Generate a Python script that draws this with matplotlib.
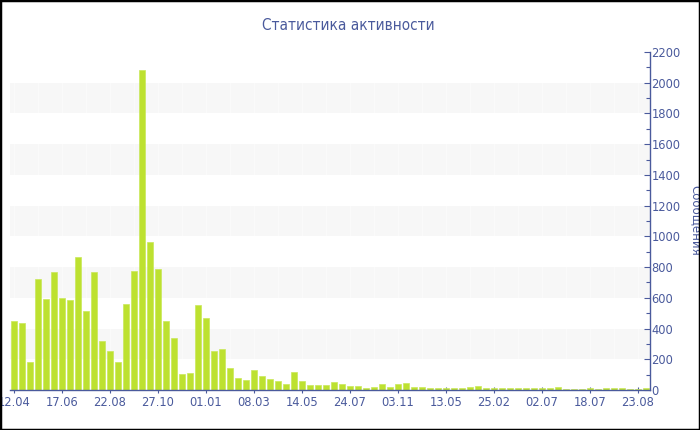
import matplotlib
matplotlib.use("Agg")
import matplotlib.pyplot as plt
from matplotlib.patches import Rectangle
from matplotlib.ticker import MultipleLocator

title = "Статистика активности"
y_label = "Сообщения"

values = [447, 436, 182, 720, 594, 770, 599, 584, 868, 512,
          766, 321, 254, 182, 562, 777, 2080, 966, 786, 446,
          337, 102, 110, 551, 468, 253, 265, 143, 76, 67,
          132, 93, 69, 59, 37, 119, 56, 35, 33, 35,
          54, 37, 28, 24, 13, 22, 37, 20, 41, 46,
          17, 20, 15, 13, 11, 11, 13, 22, 25, 16,
          11, 11, 11, 11, 11, 13, 13, 11, 17, 9,
          9, 9, 11, 7, 13, 13, 11, 9, 9, 13]

tick_labels = ["12.04", "17.06", "22.08", "27.10", "01.01", "08.03", "14.05",
               "24.07", "03.11", "13.05", "25.02", "02.07", "18.07", "23.08"]
tick_step = 6

y_max = 2200
band_ranges = [(200, 400), (600, 800), (1000, 1200), (1400, 1600), (1800, 2000)]

blue = "#4a5a9c"
bar_color = "#bde130"

fig = plt.figure(figsize=(7, 4.3), dpi=100)
ax = fig.add_axes([10 / 700, 40 / 430, 640 / 700, 338 / 430])

positions = list(range(len(values)))
for lo, hi in band_ranges:
    ax.axhspan(lo, hi, color="#f7f7f7", zorder=0, lw=0)
for p in range(0, len(values), 3):
    ax.axvline(p, color="white", lw=0.8, zorder=0.5, alpha=0.45)

ax.bar(positions, values, width=0.74, color=bar_color, edgecolor="#c9e85a",
       linewidth=0.5, zorder=2)

ax.set_xlim(-0.5, len(values) - 0.5)
ax.set_ylim(0, y_max)

ax.set_xticks(positions[::tick_step][:len(tick_labels)])
ax.set_xticklabels(tick_labels)

ax.yaxis.tick_right()
ax.yaxis.set_major_locator(MultipleLocator(200))
ax.yaxis.set_minor_locator(MultipleLocator(100))

for s in ["top", "left"]:
    ax.spines[s].set_visible(False)
for s in ["bottom", "right"]:
    ax.spines[s].set_color(blue)
    ax.spines[s].set_linewidth(1.0)

ax.tick_params(axis="x", colors=blue, labelsize=8.3, direction="inout",
               length=5, width=0.8, pad=2, labelcolor=blue)
ax.tick_params(axis="y", which="major", colors=blue, labelsize=8.3,
               direction="in", length=4, width=0.8, pad=1, labelcolor=blue)
ax.tick_params(axis="y", which="minor", colors=blue, direction="in",
               length=3, width=0.8)
ax.tick_params(axis="y", left=False, labelleft=False)

fig.text(348 / 700, 1 - 25 / 430, title, ha="center", va="center",
         fontsize=11, color=blue, fontstretch="condensed",
         family="DejaVu Sans")
fig.text(696 / 700, 1 - 220 / 430, y_label, ha="center", va="center",
         rotation=270, fontsize=8.5, color=blue)

fig.patches.append(Rectangle((0, 0), 1, 1, transform=fig.transFigure,
                             fill=False, edgecolor="black", linewidth=2.5,
                             zorder=10))

fig.savefig("out.png", dpi=100)
